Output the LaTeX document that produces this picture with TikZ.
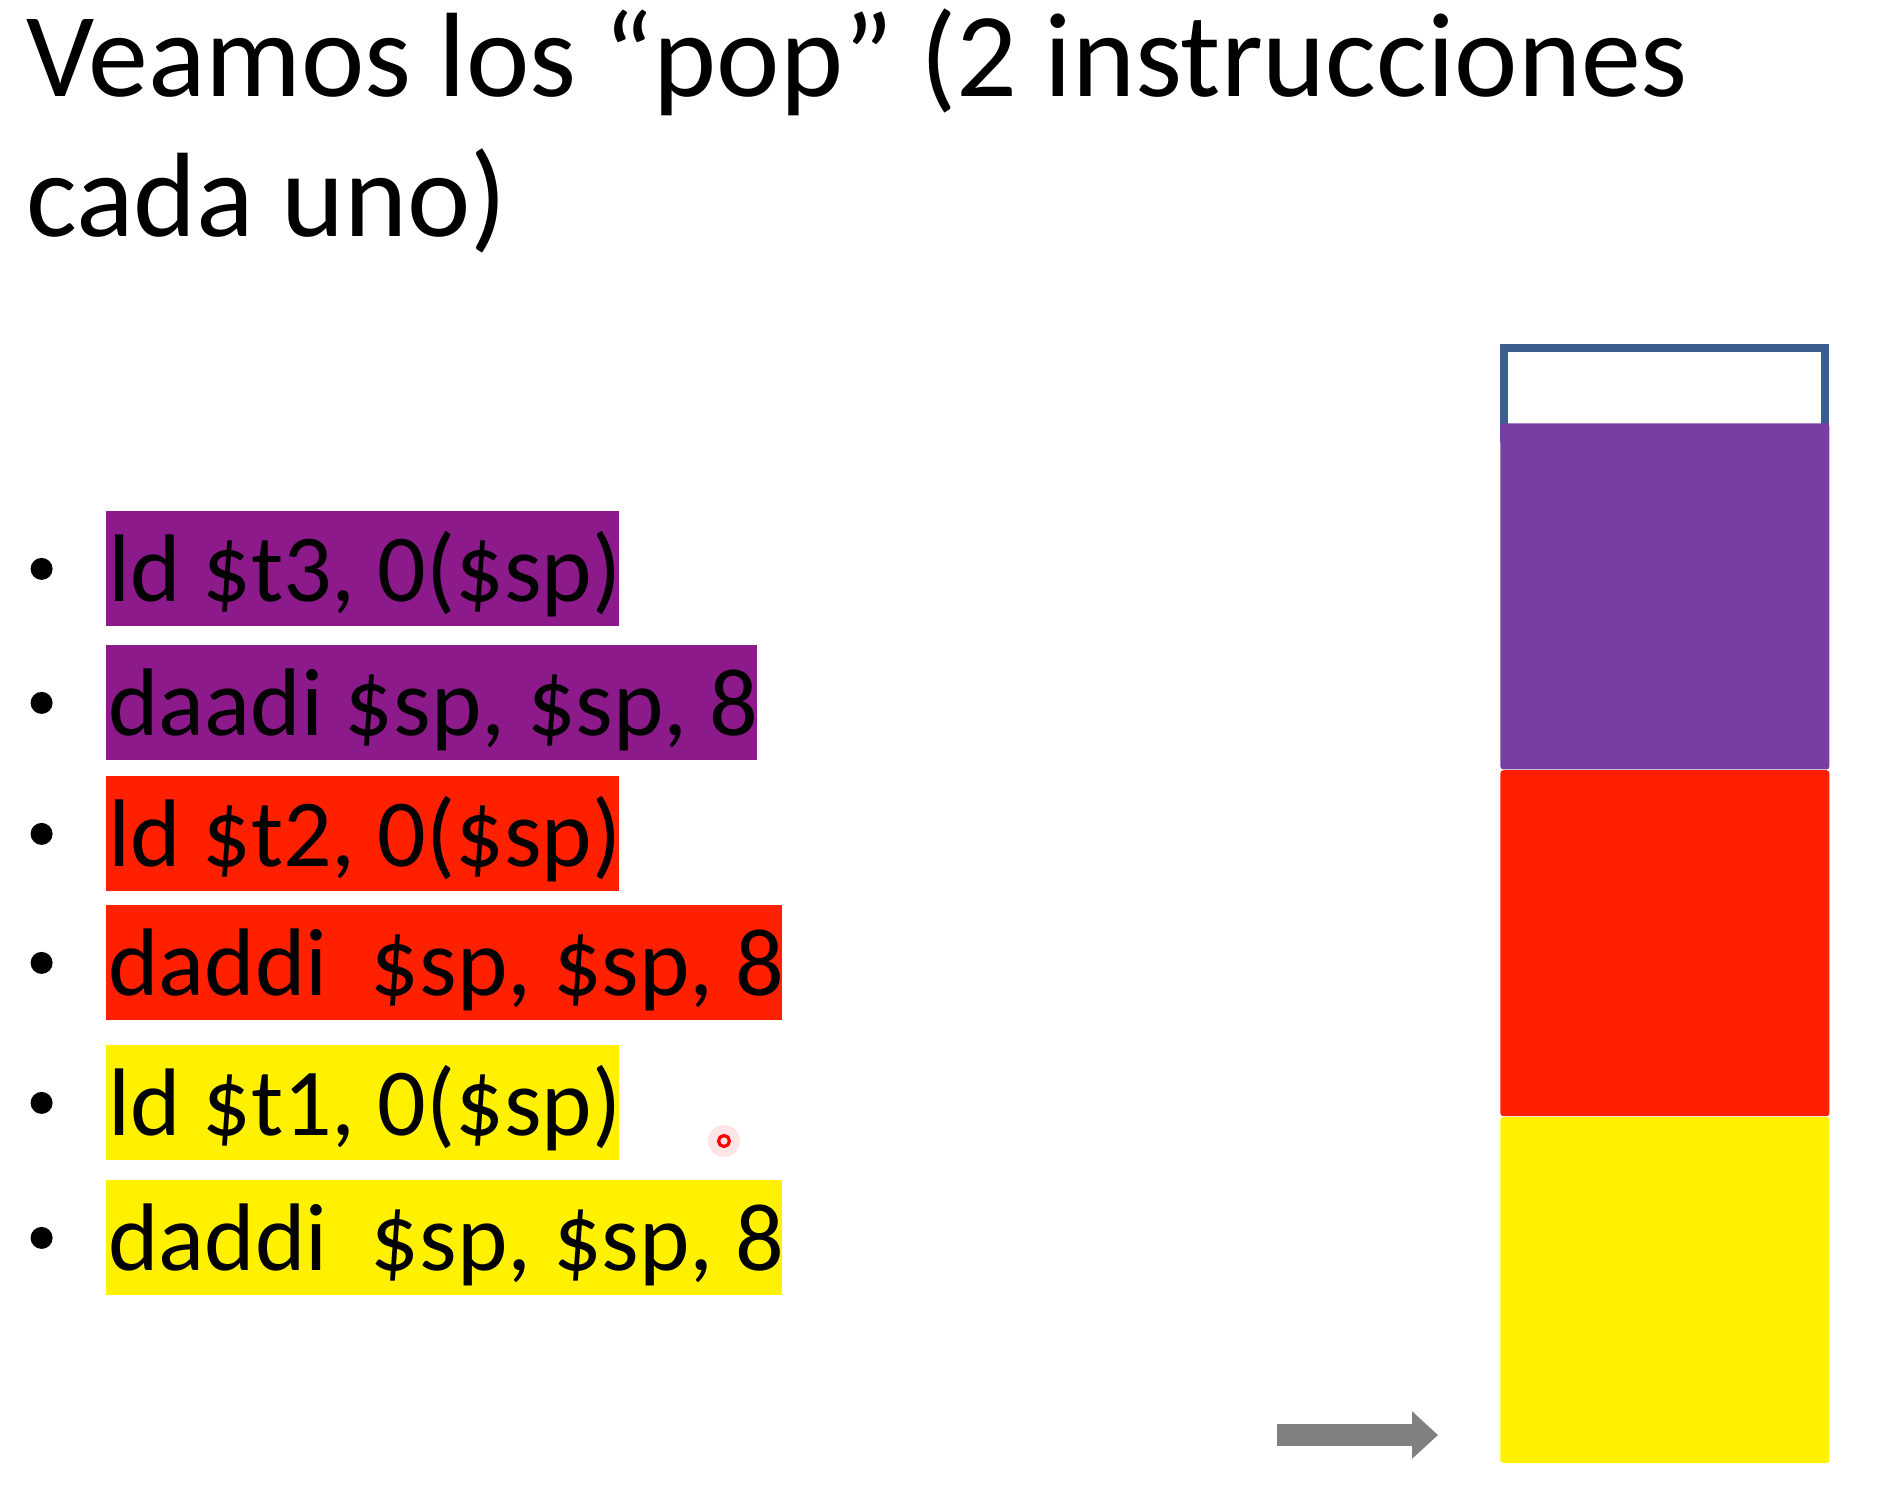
\documentclass[tikz,border=0pt]{standalone}
\usepackage{fontspec}
\setmainfont{Carlito}
\usepackage{xcolor}
\usetikzlibrary{arrows.meta,positioning}
\definecolor{poppurple}{HTML}{8C1A8A}
\definecolor{cellpurple}{HTML}{783EA3}
\definecolor{popred}{HTML}{FF2000}
\definecolor{popyellow}{HTML}{FFF100}
\definecolor{frameblue}{HTML}{3A5F8E}
\definecolor{ptrgray}{HTML}{808080}

\begin{document}
\begin{tikzpicture}[
  x=0.5pt,y=-0.5pt,
  heading/.style={anchor=base west,inner sep=0pt,font=\fontsize{60}{69}\selectfont},
  instr/.style={anchor=north west,inner xsep=1pt,inner ysep=0pt,
    minimum width=#1,text height=45pt,text depth=12.5pt,
    font=\fontsize{48}{57}\selectfont},
  bullet/.style={circle,fill=black,inner sep=0pt,minimum size=11pt},
  cell/.style={anchor=north west,inner sep=0pt,minimum width=164.5pt,
    minimum height=173pt,rounded corners=1.5pt},
  ptr/.style={draw=ptrgray,line width=11pt,-{Triangle[length=13pt,width=23pt]}}
]
\useasboundingbox (0,0) rectangle (1884,1505);

% title
\node[heading] (title) at (26,96) {Veamos los “pop” (2 instrucciones};
\node[heading] (title2) at (26,236) {cada uno)};

% pop instructions
\node[instr=256.5pt,fill=poppurple] (ldA) at (106,511)
  {\makebox[254.5pt][l]{ld \$t3, 0(\$sp)}};
\node[instr=325.5pt,fill=poppurple] (addA) at (106,645)
  {\makebox[323.5pt][l]{daadi \$sp, \$sp, 8}};
\node[instr=256.5pt,fill=popred] (ldB) at (106,776)
  {\makebox[254.5pt][l]{ld \$t2, 0(\$sp)}};
\node[instr=338pt,fill=popred] (addB) at (106,905)
  {\makebox[336pt][l]{daddi\ \ \$sp, \$sp, 8}};
\node[instr=256.5pt,fill=popyellow] (ldC) at (106,1045)
  {\makebox[254.5pt][l]{ld \$t1, 0(\$sp)}};
\node[instr=338pt,fill=popyellow] (addC) at (106,1180)
  {\makebox[336pt][l]{daddi\ \ \$sp, \$sp, 8}};

\node[bullet,left=26.5pt of ldA] (dotA) {};
\node[bullet,left=26.5pt of addA] (dotB) {};
\node[bullet,left=26.5pt of ldB] (dotC) {};
\node[bullet,left=26.5pt of addB] (dotD) {};
\node[bullet,left=26.5pt of ldC] (dotE) {};
\node[bullet,left=26.5pt of addC] (dotF) {};

% pointer mark
\node[circle,fill=red!10,inner sep=0pt,minimum size=16pt] (glow) at (724,1141) {};
\node[circle,draw=red,line width=1.6pt,inner sep=0pt,minimum size=5.5pt] (laser) at (724,1141) {};

% stack
\node[draw=frameblue,line width=4pt,anchor=north west,inner sep=0pt,
  minimum width=160.5pt,minimum height=45pt] (free) at (1500,344) {};
\node[cell,fill=cellpurple] (slotA) at (1500,423) {};
\node[cell,fill=popred,below=0pt of slotA] (slotB) {};
\node[cell,fill=popyellow,below=0pt of slotB] (slotC) {};

\coordinate (sptail) at (1277,1435);
\coordinate (sphead) at (1438,1435);
\draw[ptr] (sptail) -- (sphead);
\end{tikzpicture}
\end{document}
